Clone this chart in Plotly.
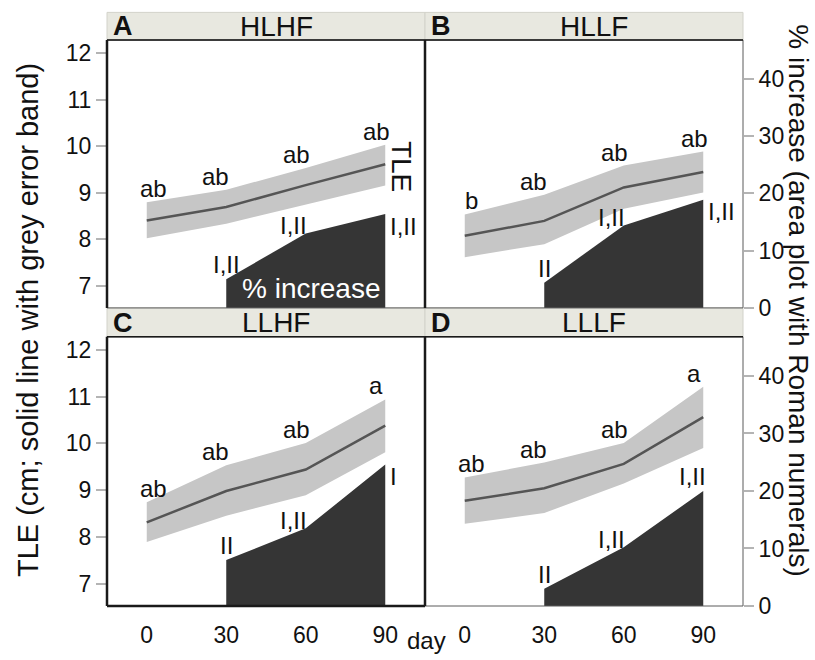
import plotly.graph_objects as go

# ---------------- data ----------------
days = [0, 30, 60, 90]
inc_days = [30, 60, 90]
panel_names = ["HLHF", "HLLF", "LLHF", "LLLF"]
panel_letters = ["A", "B", "C", "D"]

tle_mean_A = [8.40, 8.69, 9.16, 9.61]
tle_upper_A = [8.79, 9.06, 9.53, 10.03]
tle_lower_A = [8.02, 8.33, 8.74, 9.15]

tle_mean_B = [8.07, 8.39, 9.11, 9.44]
tle_upper_B = [8.53, 8.95, 9.58, 9.88]
tle_lower_B = [7.61, 7.89, 8.65, 9.00]

tle_mean_C = [8.31, 8.98, 9.44, 10.38]
tle_upper_C = [8.74, 9.53, 10.01, 10.94]
tle_lower_C = [7.89, 8.45, 8.89, 9.81]

tle_mean_D = [8.77, 9.04, 9.56, 10.56]
tle_upper_D = [9.27, 9.59, 10.01, 11.21]
tle_lower_D = [8.28, 8.51, 9.14, 9.90]

pct_A = [5.0, 13.0, 16.4]
pct_B = [4.4, 14.4, 18.9]
pct_C = [8.0, 13.5, 24.6]
pct_D = [3.0, 10.2, 20.0]

letters_A = ["ab", "ab", "ab", "ab"]
letters_B = ["b", "ab", "ab", "ab"]
letters_C = ["ab", "ab", "ab", "a"]
letters_D = ["ab", "ab", "ab", "a"]

roman_A = ["I,II", "I,II", "I,II"]
roman_B = ["II", "I,II", "I,II"]
roman_C = ["II", "I,II", "I"]
roman_D = ["II", "I,II", "I,II"]

x_ticks = [0, 30, 60, 90]
tle_ticks = [7, 8, 9, 10, 11, 12]
pct_ticks = [0, 10, 20, 30, 40]

# ---------------- styling ----------------
FONT = "Liberation Sans, Arial, sans-serif"
BAND = "#c6c6c6"
LINE = "#555555"
AREA = "#353535"
HEAD = "#e8e8e0"
TXT = "#111111"

panels = [
    (tle_mean_A, tle_upper_A, tle_lower_A, pct_A, letters_A, roman_A, "right"),
    (tle_mean_B, tle_upper_B, tle_lower_B, pct_B, letters_B, roman_B, "right"),
    (tle_mean_C, tle_upper_C, tle_lower_C, pct_C, letters_C, roman_C, "right"),
    (tle_mean_D, tle_upper_D, tle_lower_D, pct_D, letters_D, roman_D, "above"),
]

W, H = 815, 660
ML, MR, MT, MB = 107, 72, 40, 46
PW, PH = W - ML - MR, H - MT - MB

col_dom = [[0.0, 0.5], [0.5, 1.0]]
row_dom = [[0.5267, 1.0], [0.0, 0.4756]]
header_dom = [[1.0, 1.0 + 28 / PH], [0.4756, 0.5261]]

fig = go.Figure()
layout = dict(
    width=W, height=H,
    margin=dict(l=ML, r=MR, t=MT, b=MB),
    paper_bgcolor="white", plot_bgcolor="white",
    showlegend=False,
    font=dict(family=FONT, size=23, color=TXT),
)
shapes, annos = [], []

letter_shift = [7, -11, -9, -9]

for i, (mean, up, lo, pct, lets, roms, last_pos) in enumerate(panels):
    r, c = divmod(i, 2)
    k = i + 1
    xn = "x" if k == 1 else f"x{k}"
    yl_n = 2 * i + 1
    yr_n = 2 * i + 2
    yl = "y" if yl_n == 1 else f"y{yl_n}"
    yr = f"y{yr_n}"
    xkey = "xaxis" if k == 1 else f"xaxis{k}"
    ylkey = "yaxis" if yl_n == 1 else f"yaxis{yl_n}"
    yrkey = f"yaxis{yr_n}"

    layout[xkey] = dict(
        domain=col_dom[c], anchor=yl, range=[-15, 105],
        tickvals=x_ticks, showticklabels=(r == 1),
        ticks="outside", ticklen=8, tickcolor="rgba(0,0,0,0)",
        showgrid=False, zeroline=False, showline=False,
        tickfont=dict(size=23, color=TXT),
    )
    layout[ylkey] = dict(
        domain=row_dom[r], anchor=xn, range=[6.52, 12.28],
        tickvals=tle_ticks, showticklabels=(c == 0),
        ticks="outside" if c == 0 else "", ticklen=10, tickwidth=1.5,
        tickcolor="#b4b4b4",
        showgrid=False, zeroline=False, showline=False,
        tickfont=dict(size=23, color=TXT),
    )
    layout[yrkey] = dict(
        domain=row_dom[r], anchor=xn, overlaying=yl, side="right",
        range=[0, 46.8], tickvals=pct_ticks, showticklabels=(c == 1),
        ticks="outside" if c == 1 else "", ticklen=10, tickwidth=1.5,
        tickcolor="#b4b4b4",
        showgrid=False, zeroline=False, showline=False,
        tickfont=dict(size=23, color=TXT),
    )

    # grey error band
    fig.add_trace(go.Scatter(
        x=days + days[::-1], y=up + lo[::-1], fill="toself",
        fillcolor=BAND, line=dict(width=0), mode="lines",
        hoverinfo="skip", xaxis=xn, yaxis=yl))
    # mean line
    fig.add_trace(go.Scatter(
        x=days, y=mean, mode="lines", line=dict(color=LINE, width=2.5),
        xaxis=xn, yaxis=yl))
    # % increase area
    fig.add_trace(go.Scatter(
        x=inc_days, y=pct, mode="lines", fill="tozeroy",
        fillcolor=AREA, line=dict(width=0, color=AREA),
        xaxis=xn, yaxis=yr))

    # letter labels above band
    for j, (d, u, t) in enumerate(zip(days, up, lets)):
        annos.append(dict(x=d, y=u, xref=xn, yref=yl, text=t, showarrow=False,
                          xanchor="center", yanchor="bottom",
                          xshift=letter_shift[j], yshift=-2,
                          font=dict(size=24, color=TXT)))
    # roman labels on area
    for j, (d, p, t) in enumerate(zip(inc_days, pct, roms)):
        if j == 0:
            a = dict(xanchor="center", yanchor="bottom", xshift=0, yshift=-1)
        elif j == 1:
            a = dict(xanchor="center", yanchor="bottom", xshift=-12, yshift=-8)
        else:
            if last_pos == "right":
                a = dict(xanchor="left", yanchor="middle", xshift=3, yshift=-12)
            else:
                a = dict(xanchor="center", yanchor="bottom", xshift=-11, yshift=-1)
        annos.append(dict(x=d, y=p, xref=xn, yref=yr, text=t, showarrow=False,
                          font=dict(size=24, color=TXT), **a))

    # panel frame
    shapes.append(dict(type="rect", xref=f"{xn} domain", yref=f"{yl} domain",
                       x0=0, x1=1, y0=0, y1=1, line=dict(color="#5a5a5a", width=1),
                       layer="above"))
    shapes.append(dict(type="line", xref=f"{xn} domain", yref=f"{yl} domain",
                       x0=0, x1=1, y0=1, y1=1, line=dict(color="#1a1a1a", width=1.5),
                       layer="above"))
    shapes.append(dict(type="line", xref=f"{xn} domain", yref=f"{yl} domain",
                       x0=0, x1=0, y0=0, y1=1, line=dict(color="#1a1a1a", width=2.5),
                       layer="above"))
    if r == 1 and c == 0:
        shapes.append(dict(type="line", xref=f"{xn} domain", yref=f"{yl} domain",
                           x0=0, x1=1, y0=0, y1=0, line=dict(color="#1a1a1a", width=2.5),
                           layer="above"))

    # header strip
    shapes.append(dict(type="rect", xref="paper", yref="paper",
                       x0=col_dom[c][0], x1=col_dom[c][1],
                       y0=header_dom[r][0], y1=header_dom[r][1],
                       fillcolor=HEAD, line=dict(color="#d2d2ca", width=1),
                       layer="below"))
    ymid = (header_dom[r][0] + header_dom[r][1]) / 2
    annos.append(dict(x=(col_dom[c][0] + col_dom[c][1]) / 2, y=ymid,
                      xref="paper", yref="paper", text=panel_names[i],
                      showarrow=False, xanchor="center", yanchor="middle",
                      xshift=10, font=dict(size=28, color=TXT)))
    annos.append(dict(x=col_dom[c][0], y=ymid, xref="paper", yref="paper",
                      text=f"<b>{panel_letters[i]}</b>", showarrow=False,
                      xanchor="left", yanchor="middle", xshift=4,
                      font=dict(size=27, color=TXT)))

    if i == 0:
        annos.append(dict(x=days[-1], y=mean[-1], xref=xn, yref=yl, text="TLE",
                          showarrow=False, textangle=90, xanchor="center",
                          yanchor="middle", xshift=17, yshift=-2,
                          font=dict(size=28, color=TXT)))
        annos.append(dict(x=62, y=3.4, xref=xn, yref=yr, text="% increase",
                          showarrow=False, xanchor="center", yanchor="middle",
                          font=dict(size=28, color="white")))

# axis titles
annos.append(dict(x=(28 - ML) / PW, y=(MT + PH - 324) / PH, xref="paper", yref="paper",
                  text="TLE (cm; solid line with grey error band)", showarrow=False,
                  textangle=-90, xanchor="center", yanchor="middle",
                  font=dict(size=29, color=TXT)))
annos.append(dict(x=(799 - ML) / PW, y=(MT + PH - 304) / PH, xref="paper", yref="paper",
                  text="% increase (area plot with Roman numerals)", showarrow=False,
                  textangle=90, xanchor="center", yanchor="middle",
                  font=dict(size=28, color=TXT)))
annos.append(dict(x=(426 - ML) / PW, y=(MT + PH - 649) / PH, xref="paper", yref="paper",
                  text="day", showarrow=False, xanchor="center", yanchor="middle",
                  font=dict(size=24, color=TXT)))

layout["shapes"] = shapes
layout["annotations"] = annos
fig.update_layout(**layout)
fig.write_html("out.html",
               config={"displayModeBar": False},
               post_script="document.body.style.margin='0px';document.body.style.overflow='hidden';")
